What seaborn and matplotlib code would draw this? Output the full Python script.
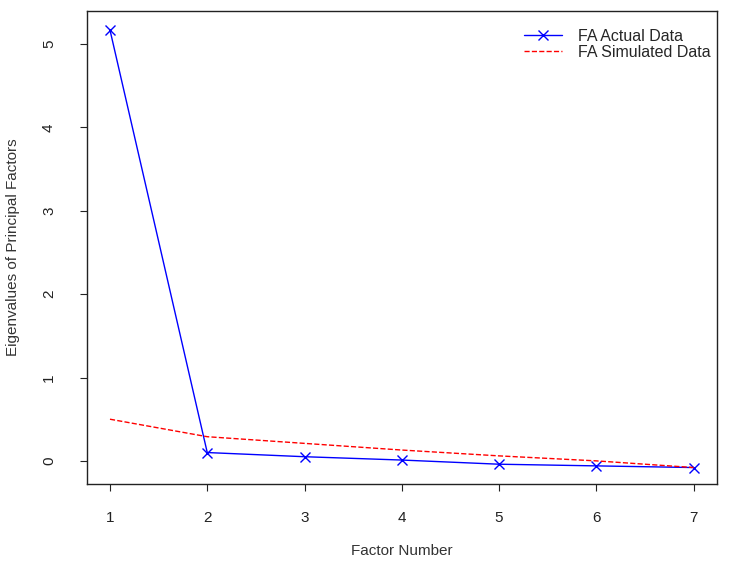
import pandas as pd
import matplotlib.pyplot as plt
import seaborn as sns

# valores
factors = [1, 2, 3, 4, 5, 6, 7]
fa_actual = [5.17, 0.10, 0.05, 0.01, -0.04, -0.06, -0.08]
fa_simulated = [0.50, 0.29, 0.21, 0.13, 0.06, 0.00, -0.08]
x_ticks = [1, 2, 3, 4, 5, 6, 7]
y_ticks = [0, 1, 2, 3, 4, 5]

df = pd.DataFrame({'factor': factors, 'actual': fa_actual, 'simulated': fa_simulated})

sns.set_style('white')
plt.rcParams['font.family'] = ['Liberation Sans', 'DejaVu Sans']

fig = plt.figure(figsize=(7.5, 5.69), dpi=100)
ax = fig.add_axes([0.1155, 0.149, 0.8405, 0.832])

sns.lineplot(data=df, x='factor', y='actual', ax=ax, color='blue', marker='x',
             markersize=7, markeredgewidth=1, markeredgecolor='blue',
             linewidth=1, label='FA Actual Data')
sns.lineplot(data=df, x='factor', y='simulated', ax=ax, color='red', linestyle='--',
             linewidth=1, dashes=(4, 3), label='FA Simulated Data')

ax.set_xlim(0.76, 7.24)
ax.set_ylim(-0.28, 5.40)
ax.set_xticks(x_ticks)
ax.set_yticks(y_ticks)
ax.tick_params(axis='both', direction='out', length=5, width=0.8, color='#222222',
               labelsize=11, labelcolor='#222222', bottom=True, left=True)
ax.tick_params(axis='x', pad=14)
ax.tick_params(axis='y', pad=17)
for lab in ax.get_yticklabels():
    lab.set_rotation(90)
    lab.set_va('center')
for s in ax.spines.values():
    s.set_color('#222222')
    s.set_linewidth(1)

ax.set_xlabel('Factor Number', fontsize=11, color='#333333', labelpad=14)
ax.set_ylabel('Eigenvalues of Principal Factors', fontsize=11, color='#333333', labelpad=16)

leg = ax.legend(loc='upper right', bbox_to_anchor=(1.013, 0.992), frameon=False,
                fontsize=11.5, handlelength=2.4, handletextpad=1.0, labelspacing=0.05)

plt.savefig('out.png', dpi=100)
